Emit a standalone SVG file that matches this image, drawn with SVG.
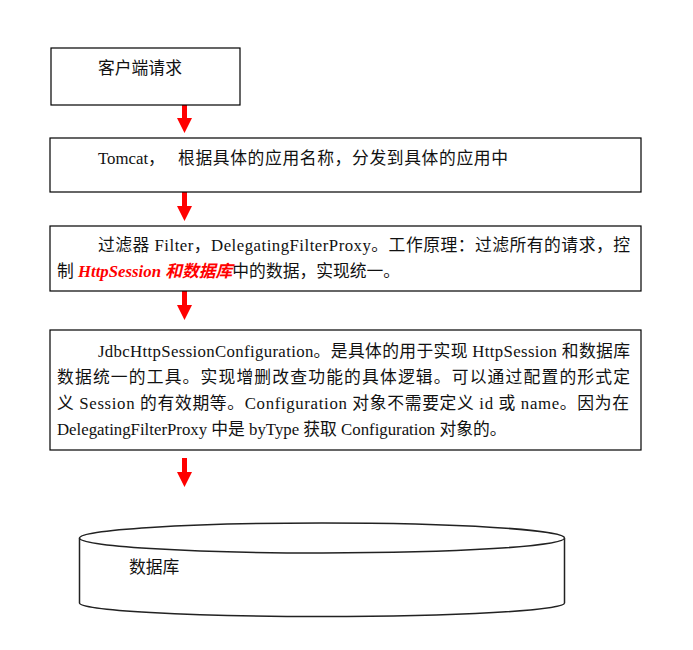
<svg xmlns="http://www.w3.org/2000/svg" width="693" height="650" viewBox="0 0 693 650">
<style>
.box{fill:#fff;stroke:#000;stroke-width:1.2}
.t{font-family:"Liberation Serif","Noto Sans CJK SC",serif;font-size:16.8px;fill:#111}
.hl{fill:#f00;font-weight:bold;font-style:italic}
.arr{fill:#f00}
.db{fill:#fff;stroke:#222;stroke-width:1.5}
</style>
<defs>
<path id="arrow" d="M-2.5,0 H2.5 V14 H7.5 L0,29 L-7.5,14 H-2.5 Z"/>
</defs>
<rect width="693" height="650" fill="#fff"/>
<g id="connectors" class="arr">
<use href="#arrow" x="184.5" y="104"/>
<use href="#arrow" x="184.5" y="192"/>
<use href="#arrow" x="184.5" y="291"/>
<use href="#arrow" x="184.5" y="458"/>
</g>
<g id="client">
<rect class="box" x="51" y="48" width="189" height="57"/>
<text class="t" x="98" y="74">客户端请求</text>
</g>
<g id="tomcat">
<rect class="box" x="50" y="138" width="591" height="54"/>
<text class="t" x="98" y="164">Tomcat，</text>
<text class="t" x="178" y="164" textLength="330" lengthAdjust="spacing">根据具体的应用名称，分发到具体的应用中</text>
</g>
<g id="filter">
<rect class="box" x="50" y="226" width="591" height="65"/>
<text class="t" x="98" y="251" textLength="532" lengthAdjust="spacing">过滤器 Filter，DelegatingFilterProxy。工作原理：过滤所有的请求，控</text>
<text class="t" x="57" y="277">制 <tspan class="hl">HttpSession 和数据库</tspan>中的数据，实现统一。</text>
</g>
<g id="config">
<rect class="box" x="50" y="330" width="591" height="120"/>
<text class="t" x="98" y="357" textLength="532" lengthAdjust="spacing">JdbcHttpSessionConfiguration。是具体的用于实现 HttpSession 和数据库</text>
<text class="t" x="57" y="383" textLength="573" lengthAdjust="spacing">数据统一的工具。实现增删改查功能的具体逻辑。可以通过配置的形式定</text>
<text class="t" x="57" y="409" textLength="572" lengthAdjust="spacing">义 Session 的有效期等。Configuration 对象不需要定义 id 或 name。因为在</text>
<text class="t" x="57" y="435">DelegatingFilterProxy 中是 byType 获取 Configuration 对象的。</text>
</g>
<g id="database">
<path class="db" d="M79.5,538 V603 A242.5,13.5 0 0 0 564.5,603 V538"/>
<ellipse class="db" cx="322" cy="538" rx="242.5" ry="15"/>
<text class="t" x="129" y="573">数据库</text>
</g>
</svg>
